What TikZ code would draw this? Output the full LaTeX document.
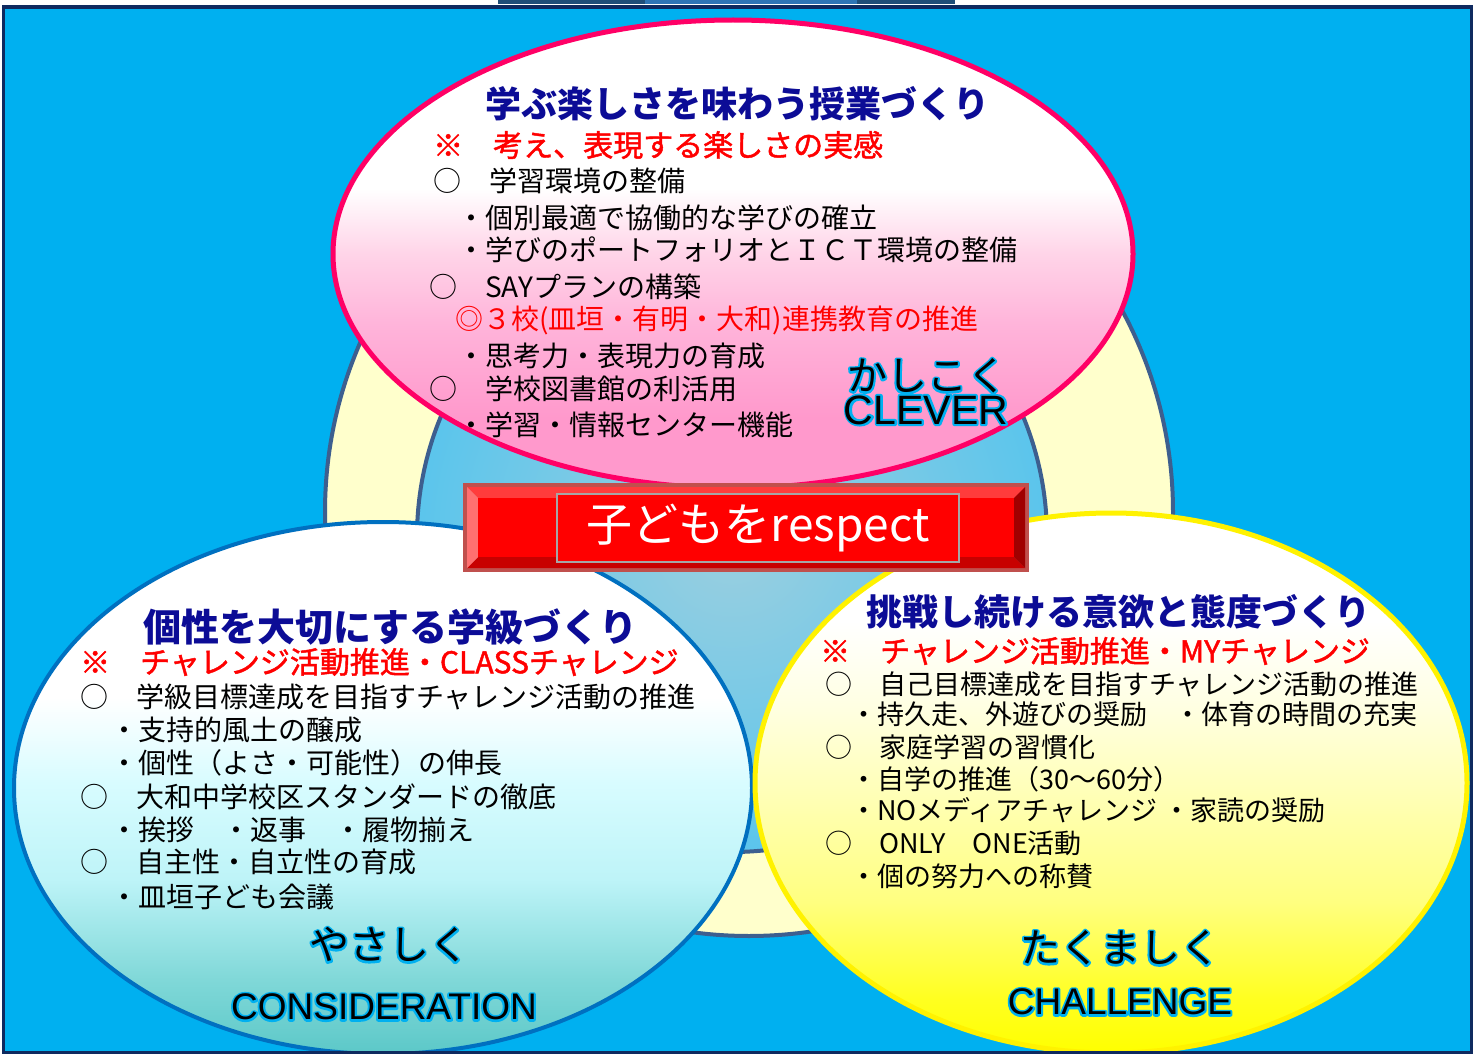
\documentclass[tikz,border=0pt]{standalone}
\usepackage{fontspec}
\setmainfont{Noto Sans CJK JP}
\newfontfamily\jpsemi[FakeBold=1.5]{Noto Sans CJK JP}
\newfontfamily\latin{Liberation Sans}
\usetikzlibrary{shapes.geometric}
\definecolor{framenavy}{HTML}{0F2A5F}
\definecolor{stubdark}{HTML}{1F4E79}
\definecolor{stublight}{HTML}{2E75B6}
\definecolor{sky}{HTML}{00B0F0}
\definecolor{ringedge}{HTML}{3D5F8F}
\definecolor{ringfill}{HTML}{FFFFCC}
\definecolor{corelight}{HTML}{9CCFDF}
\definecolor{coreedge}{HTML}{5BC5EC}
\definecolor{titleblue}{HTML}{0C0C96}
\definecolor{hotpink}{HTML}{FF0066}
\definecolor{kblue}{HTML}{0070C0}
\definecolor{glow}{HTML}{00B0F0}
\definecolor{btnrim}{HTML}{C0504D}
\definecolor{bevtop}{HTML}{FF3C3C}
\definecolor{bevbottom}{HTML}{C80000}
\definecolor{bevleft}{HTML}{FF7070}
\definecolor{bevright}{HTML}{A00000}
\definecolor{btnline}{HTML}{A6A6A6}
\pgfdeclareverticalshading{pinkshade}{100bp}{color(0bp)=(rgb,255:red,255;green,153;blue,204); color(32.5bp)=(rgb,255:red,255;green,153;blue,204); color(42.5bp)=(rgb,255:red,255;green,180;blue,218); color(50bp)=(rgb,255:red,255;green,212;blue,232); color(57bp)=(white); color(100bp)=(white)}
\pgfdeclareverticalshading{cyanshade}{100bp}{color(0bp)=(rgb,255:red,92;green,200;blue,200); color(25bp)=(rgb,255:red,92;green,200;blue,200); color(32bp)=(rgb,255:red,128;green,216;blue,216); color(41.5bp)=(rgb,255:red,190;green,244;blue,248); color(50.5bp)=(rgb,255:red,216;green,252;blue,255); color(58.5bp)=(white); color(100bp)=(white)}
\pgfdeclareverticalshading{yellowshade}{100bp}{color(0bp)=(rgb,255:red,255;green,255;blue,0); color(25bp)=(rgb,255:red,255;green,255;blue,0); color(30bp)=(rgb,255:red,255;green,255;blue,32); color(39bp)=(rgb,255:red,255;green,255;blue,128); color(48.5bp)=(rgb,255:red,255;green,255;blue,180); color(57.5bp)=(rgb,255:red,255;green,255;blue,228); color(65bp)=(white); color(100bp)=(white)}
\newcommand\glowtext[1]{\rlap{\color{glow}\special{pdf:code 1 Tr 4 w 1 j}#1\special{pdf:code 0 Tr 0.4 w 0 j}}#1}
\tikzset{
  txt/.style={anchor=west, inner sep=0pt},
  head/.style={txt, text=titleblue, font=\bfseries\fontsize{36}{40}\selectfont},
  redline/.style={txt, text=red, font=\jpsemi\fontsize{30}{34}\selectfont},
  item/.style={txt, font=\fontsize{28}{32}\selectfont},
  smallitem/.style={txt, font=\fontsize{27}{31}\selectfont},
  motto/.style={inner sep=0pt, font=\fontsize{40}{44}\selectfont},
  mottoen/.style={inner sep=0pt, font=\latin\fontsize{37}{40}\selectfont},
  bubble/.style={ellipse, inner sep=0pt, line width=5pt},
}
\begin{document}
\begin{tikzpicture}[x=1pt,y=-1pt]
\useasboundingbox (0,0) rectangle (1476,1054);
\fill[stubdark] (498,0) rectangle (955,4);
\fill[stublight] (645,0) rectangle (857,4);
\fill[sky] (3,7) rectangle (1471,1052);
\draw[ringedge, line width=4pt, fill=ringfill] (749,512) circle (424);
\draw[ringedge, line width=4pt, inner color=corelight, outer color=coreedge] (732,537) circle (315);

\node[bubble, draw=hotpink, shading=pinkshade, minimum width=800pt, minimum height=468pt] (clever) at (733,254) {};
\node[bubble, draw=kblue, line width=4pt, shading=cyanshade, minimum width=738pt, minimum height=532pt] (consid) at (383,788) {};
\node[bubble, draw=yellow, shading=yellowshade, minimum width=712pt, minimum height=540pt] (chall) at (1111,783) {};

\node[head] (c0) at (485,104) {学ぶ楽しさを味わう授業づくり};
\node[redline] (c1) at (433,145) {※　考え、表現する楽しさの実感};
\node[item] (c2) at (433,181) {○　学習環境の整備};
\node[item] (c3) at (457,218) {・個別最適で協働的な学びの確立};
\node[item] (c4) at (457,250) {・学びのポートフォリオとＩＣＴ環境の整備};
\node[item] (c5) at (429,287) {○　SAYプランの構築};
\node[item, text=red] (c6) at (455,320) {◎３校(皿垣・有明・大和)連携教育の推進};
\node[item] (c7) at (457,356) {・思考力・表現力の育成};
\node[item] (c8) at (429,389) {○　学校図書館の利活用};
\node[item] (c9) at (457,425) {・学習・情報センター機能};
\node[motto] (cjp) at (927,376) {\glowtext{かしこく}};
\node[mottoen, font=\latin\fontsize{41}{44}\selectfont] (cen) at (926,410) {\glowtext{CLEVER}};

\node[head, font=\bfseries\fontsize{38}{42}\selectfont] (k0) at (143,627) {個性を大切にする学級づくり};
\node[redline] (k1) at (80,662) {※　チャレンジ活動推進・CLASSチャレンジ};
\node[item] (k2) at (80,697) {○　学級目標達成を目指すチャレンジ活動の推進};
\node[item] (k3) at (110,730) {・支持的風土の醸成};
\node[item] (k4) at (110,763) {・個性（よさ・可能性）の伸長};
\node[item] (k5) at (80,797) {○　大和中学校区スタンダードの徹底};
\node[item] (k6) at (110,830) {・挨拶　・返事　・履物揃え};
\node[item] (k7) at (80,862) {○　自主性・自立性の育成};
\node[item] (k8) at (110,897) {・皿垣子ども会議};
\node[motto] (kjp) at (389,945) {\glowtext{やさしく}};
\node[mottoen] (ken) at (384,1007) {\glowtext{CONSIDERATION}};

\node[head] (t0) at (866,612) {挑戦し続ける意欲と態度づくり};
\node[redline] (t1) at (820,651) {※　チャレンジ活動推進・MYチャレンジ};
\node[smallitem] (t2) at (825,684) {○　自己目標達成を目指すチャレンジ活動の推進};
\node[smallitem] (t3) at (850,714) {・持久走、外遊びの奨励　・体育の時間の充実};
\node[smallitem] (t4) at (825,747) {○　家庭学習の習慣化};
\node[smallitem] (t5) at (850,779) {・自学の推進（30〜60分）};
\node[smallitem] (t6) at (850,810) {・NOメディアチャレンジ ・家読の奨励};
\node[smallitem] (t7) at (825,843) {○　ONLY　ONE活動};
\node[smallitem] (t8) at (850,876) {・個の努力への称賛};
\node[motto] (tjp) at (1120,948) {\glowtext{たくましく}};
\node[mottoen] (ten) at (1120,1002) {\glowtext{CHALLENGE}};

\fill[btnrim] (463,483) rectangle (1029,572);
\fill[bevtop] (467,487) -- (1025,487) -- (1014,498) -- (478,498) -- cycle;
\fill[bevbottom] (467,568) -- (1025,568) -- (1014,557) -- (478,557) -- cycle;
\fill[bevleft] (467,487) -- (478,498) -- (478,557) -- (467,568) -- cycle;
\fill[bevright] (1025,487) -- (1014,498) -- (1014,557) -- (1025,568) -- cycle;
\fill[red] (478,498) rectangle (1014,557);
\node[draw=btnline, line width=1.5pt, fill=red, minimum width=402pt, minimum height=68pt, inner sep=0pt, text=white, font=\fontsize{46}{50}\selectfont] (respect) at (758,528) {子どもをrespect};

\draw[framenavy, line width=3pt] (3,7) rectangle (1471,1052);
\draw[framenavy, line width=4pt] (3,7) -- (1471,7);
\end{tikzpicture}
\end{document}
